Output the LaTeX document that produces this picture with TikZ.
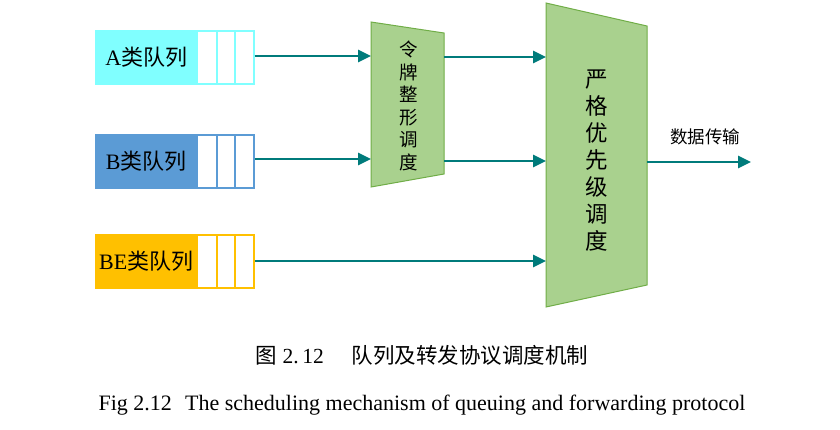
\documentclass[tikz,border=0pt]{standalone}
\usepackage{fontspec}
\setmainfont{Liberation Serif}
\newfontfamily\cjk{Noto Sans CJK SC}
\usetikzlibrary{arrows.meta}
\definecolor{qa}{HTML}{80FFFF}
\definecolor{qb}{HTML}{5B9BD5}
\definecolor{qbe}{HTML}{FFC000}
\definecolor{gfill}{HTML}{A9D18E}
\definecolor{gline}{HTML}{70AD47}
\definecolor{teal2}{HTML}{007B7B}
\begin{document}
\begin{tikzpicture}[x=1pt,y=-1pt,
  qlabel/.style={minimum width=101pt,minimum height=53pt,inner sep=0pt,anchor=north west,line width=1.5pt,font=\fontsize{22}{22}\selectfont},
  qcell/.style={minimum height=53pt,inner sep=0pt,anchor=north west,fill=white,line width=1.5pt},
  conn/.style={draw=teal2,line width=2.8pt,-{Triangle[length=13pt,width=12pt]}},
  trap/.style={fill=gfill,draw=gline,line width=1pt},
  vtext/.style={align=center,inner sep=0pt}]
\useasboundingbox (0,0) rectangle (840,429);
% queues
\foreach \n/\c/\y/\t in {A/qa/30/A{\cjk 类队列},B/qb/134/B{\cjk 类队列},E/qbe/234/BE{\cjk 类队列}}{
  \node[qlabel,fill=\c,draw=\c] (q\n) at (95,\y) {\t};
  \node[qcell,draw=\c,minimum width=20pt] (q\n1) at (196,\y) {};
  \node[qcell,draw=\c,minimum width=18pt] (q\n2) at (216,\y) {};
  \node[qcell,draw=\c,minimum width=19pt] (q\n3) at (234,\y) {};
}
% token shaper
\draw[trap] (371,22) -- (444,33) -- (444,174) -- (371,187) -- cycle;
\node[vtext,font=\cjk\fontsize{18.5}{22.5}\selectfont] (ts) at (409,106) {令\\牌\\整\\形\\调\\度};
% strict priority
\draw[trap] (546,3) -- (647,26) -- (647,285) -- (546,307) -- cycle;
\node[vtext,font=\cjk\fontsize{22.5}{27}\selectfont] (sp) at (597,161) {严\\格\\优\\先\\级\\调\\度};
% coordinates
\coordinate (tsA) at (371,56);
\coordinate (tsB) at (371,159);
\coordinate (tsoA) at (444,57);
\coordinate (tsoB) at (444,161);
\coordinate (spA) at (546,57);
\coordinate (spB) at (546,161);
\coordinate (spE) at (546,261);
\coordinate (spo) at (647,162);
\coordinate (out) at (751,162);
% connectors
\draw[conn] (qA3.east |- tsA) -- (tsA);
\draw[conn] (qB3.east |- tsB) -- (tsB);
\draw[conn] (tsoA) -- (spA);
\draw[conn] (tsoB) -- (spB);
\draw[conn] (qE3.east |- spE) -- (spE);
\draw[conn] (spo) -- (out);
\node[font=\cjk\fontsize{17.5}{17.5}\selectfont,inner sep=0pt] (dt) at (705,137) {数据传输};
% captions
\node[inner sep=0pt,font=\fontsize{21.5}{21.5}\selectfont] (cap1) at (422,355) {{\cjk 图} 2.\,12\hspace{1.3em}{\cjk 队列及转发协议调度机制}};
\node[inner sep=0pt,font=\fontsize{22}{22}\selectfont] (cap2) at (422,405) {Fig 2.12\hspace{0.6em}The scheduling mechanism of queuing and forwarding protocol};
\end{tikzpicture}
\end{document}
